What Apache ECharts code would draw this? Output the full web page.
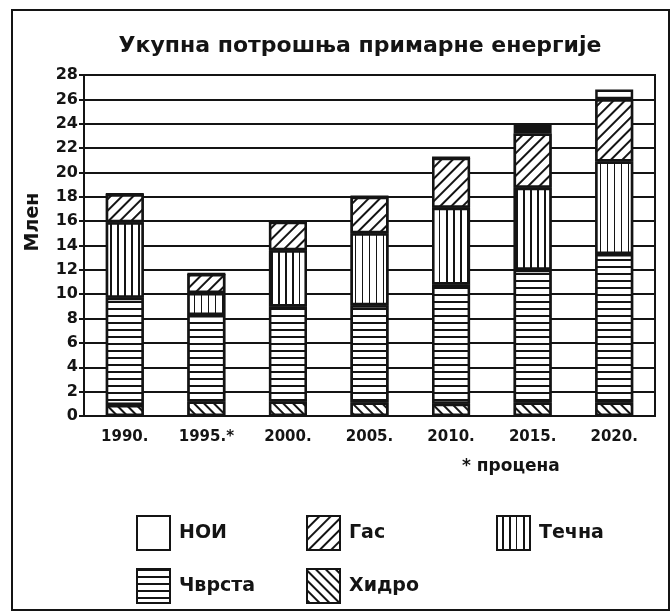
<!DOCTYPE html>
<html lang="sr">
<head>
<meta charset="utf-8">
<title>Укупна потрошња примарне енергије</title>
<script src="https://cdn.jsdelivr.net/npm/echarts@6/dist/echarts.min.js"></script>
<style>
  html, body { margin: 0; padding: 0; background: #fff; }
  #chart { width: 672px; height: 613px; }
</style>
</head>
<body>
<div id="chart"></div>
<script>
// years on the x axis
const years = ['1990.', '1995.*', '2000.', '2005.', '2010.', '2015.', '2020.']
// values (stacked, bottom to top)
const hydro = [0.9, 1.2, 1.2, 1.1, 1.0, 1.1, 1.1]
const solid = [8.8, 7.1, 7.8, 8.0, 9.8, 10.9, 12.2]
const liquid = [6.2, 1.8, 4.6, 5.9, 6.3, 6.75, 7.6]
const gas = [2.3, 1.55, 2.35, 3.0, 4.1, 4.45, 5.1]
const noi = [0, 0, 0, 0, 0, 0.8, 0.8]

const ink = '#141414'
const fontFamily = 'DejaVu Sans'

const chart = echarts.init(document.getElementById('chart'))

function hatch(rotation, gap) {
  return {
    symbol: 'rect',
    symbolSize: 1,
    dashArrayX: [1, 0],
    dashArrayY: [2, gap],
    rotation: rotation,
    color: ink,
    backgroundColor: '#fff'
  }
}

function barSeries(name, data, decal) {
  const itemStyle = {
    color: '#fff',
    borderColor: ink,
    borderWidth: 2.5
  }
  if (decal) itemStyle.decal = decal
  return {
    name: name,
    type: 'bar',
    stack: 'total',
    barWidth: 38,
    data: data,
    itemStyle: itemStyle,
    emphasis: { disabled: true }
  }
}

function legendAt(name, left, top) {
  return {
    data: [name],
    left: left,
    top: top,
    icon: 'rect',
    itemWidth: 33,
    itemHeight: 34,
    itemGap: 6,
    selectedMode: false,
    textStyle: { fontFamily, fontWeight: 'bold', fontSize: 19, color: ink, padding: [0, 0, 0, 4] }
  }
}

// the thin НОИ strip in 2015 is printed almost solid black
const noiData = noi.map((v, i) => i === 5 ? { value: v, itemStyle: { color: ink } } : v)

const option = {
  animation: false,
  backgroundColor: '#fff',
  title: {
    text: 'Укупна потрошња примарне енергије',
    left: 355,
    top: 30,
    textAlign: 'center',
    textStyle: { fontFamily, fontWeight: 'bold', fontSize: 22, color: ink }
  },
  grid: {
    left: 84,
    right: 17,
    top: 75,
    bottom: 197,
    show: true,
    borderColor: ink,
    borderWidth: 2
  },
  legend: [
    legendAt('НОИ', 131, 510),
    legendAt('Гас', 301, 510),
    legendAt('Течна', 491, 510),
    legendAt('Чврста', 131, 563),
    legendAt('Хидро', 301, 563)
  ],
  xAxis: {
    type: 'category',
    data: years,
    axisLine: { lineStyle: { color: ink, width: 2 } },
    axisTick: { alignWithLabel: true, length: 6, lineStyle: { color: ink, width: 2 } },
    axisLabel: { fontFamily, fontWeight: 'bold', fontSize: 15, color: ink, margin: 14 }
  },
  yAxis: {
    type: 'value',
    min: 0,
    max: 28,
    interval: 2,
    axisLine: { show: true, lineStyle: { color: ink, width: 2 } },
    axisTick: { show: true, length: 5, lineStyle: { color: ink, width: 2 } },
    axisLabel: { fontFamily, fontWeight: 'bold', fontSize: 16, color: ink, margin: 6 },
    splitLine: { lineStyle: { color: ink, width: 2 } }
  },
  graphic: [
    {
      type: 'rect',
      shape: { x: 12, y: 10, width: 657, height: 600 },
      style: { fill: 'none', stroke: ink, lineWidth: 2 },
      silent: true
    },
    {
      type: 'text',
      x: 33,
      y: 222,
      rotation: Math.PI / 2,
      style: {
        text: 'Млен',
        fontFamily,
        fontWeight: 'bold',
        fontSize: 19,
        fill: ink,
        align: 'center',
        verticalAlign: 'middle'
      }
    },
    {
      type: 'text',
      x: 462,
      y: 467,
      style: {
        text: '* процена',
        fontFamily,
        fontWeight: 'bold',
        fontSize: 17,
        fill: ink,
        verticalAlign: 'middle'
      }
    }
  ],
  series: [
    barSeries('Хидро', hydro, hatch(Math.PI / 4, 5)),
    barSeries('Чврста', solid, hatch(0, 5)),
    barSeries('Течна', liquid, hatch(Math.PI / 2, 5)),
    barSeries('Гас', gas, hatch(-Math.PI / 4, 6)),
    barSeries('НОИ', noiData, null)
  ]
}

chart.setOption(option)
</script>
</body>
</html>
